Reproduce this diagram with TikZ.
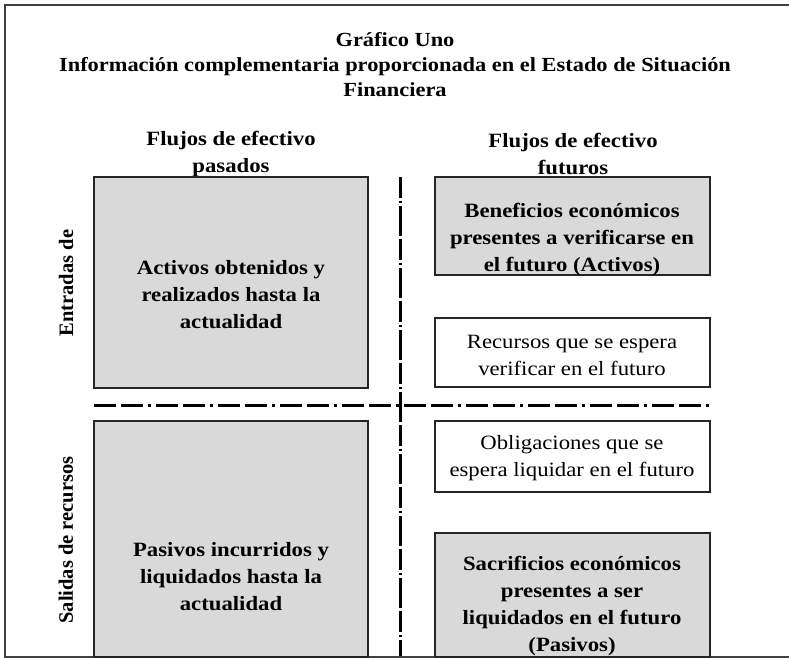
\documentclass[tikz,border=0pt]{standalone}
\usepackage{fontspec}
\setmainfont{Liberation Serif}[FakeStretch=1.12]
\newfontfamily\plainserif{Liberation Serif}
\begin{document}
\begin{tikzpicture}[x=1pt,y=-1pt,
  gbox/.style={draw=black!85, line width=1.4pt, fill=black!15, anchor=north west, inner sep=0pt, outer sep=0pt},
  wbox/.style={draw=black!85, line width=1.4pt, fill=white, anchor=north west, inner sep=0pt, outer sep=0pt},
  btxt/.style={font=\fontsize{20.3}{27}\selectfont\bfseries, align=center, inner sep=0pt},
  ntxt/.style={font=\fontsize{20.3}{27}\selectfont, align=center, inner sep=0pt},
  ttxt/.style={font=\fontsize{20}{25}\selectfont\bfseries, align=center, inner sep=0pt},
  rtxt/.style={font=\plainserif\fontsize{20.5}{25}\selectfont\bfseries, inner sep=0pt, rotate=90},
  sep/.style={line width=3pt, black}
]
\useasboundingbox (0,0) rectangle (789,659);
% frame
\draw[line width=2pt, black!75] (790,5) -- (5,5) -- (5,657) -- (790,657);
% title
\node[ttxt] (title) at (395,65) {Gráfico Uno\\Información complementaria proporcionada en el Estado de Situación\\Financiera};
% column heads
\node[btxt] (hpas) at (231,154) {Flujos de efectivo\\pasados};
\node[btxt] (hfut) at (573,154) {Flujos de efectivo\\futuros};
% boxes
\node[gbox, minimum width=274pt, minimum height=211pt] (act) at (94,177) {};
\node[gbox, minimum width=275pt, minimum height=98pt] (ben) at (435,177) {};
\node[wbox, minimum width=275pt, minimum height=69pt] (rec) at (435,318) {};
\node[gbox, minimum width=274pt, minimum height=236pt] (pas) at (94,421) {};
\node[wbox, minimum width=275pt, minimum height=71pt] (obl) at (435,421) {};
\node[gbox, minimum width=275pt, minimum height=124pt] (sac) at (435,533) {};
% box texts
\node[btxt] (tact) at (231,295) {Activos obtenidos y\\realizados hasta la\\actualidad};
\node[btxt] (tben) at (572,240) {Beneficios económicos\\presentes a verificarse en\\el futuro (Activos)};
\node[ntxt] (trec) at (572,355) {Recursos que se espera\\verificar en el futuro};
\node[btxt] (tpas) at (231,577) {Pasivos incurridos y\\liquidados hasta la\\actualidad};
\node[ntxt] (tobl) at (572,458) {Obligaciones que se\\espera liquidar en el futuro};
\node[btxt] (tsac) at (572,606) {Sacrificios económicos\\presentes a ser\\liquidados en el futuro\\(Pasivos)};
% side labels
\node[rtxt] (lent) at (66,283) {Entradas de};
\node[rtxt] (lsal) at (66,540) {Salidas de recursos};
% separators
\coordinate (vt) at (400,177);
\coordinate (vb) at (400,656);
\coordinate (hl) at (94,405);
\coordinate (hr) at (712,405);
\draw[sep, dash pattern=on 21pt off 3pt on 2pt off 3pt on 30pt off 3pt] (vt) -- (vb);
\draw[sep, dash pattern=on 22pt off 5pt on 22pt off 5pt on 3pt off 5pt] (hl) -- (hr);
\end{tikzpicture}
\end{document}
